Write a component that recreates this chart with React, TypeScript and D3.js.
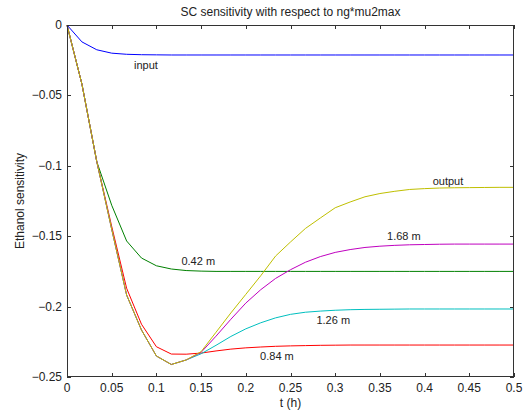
import React from "react";
import * as d3 from "d3";

const tHours = [0, 0.0167, 0.0333, 0.05, 0.0667, 0.0833, 0.1, 0.1167, 0.1333, 0.15, 0.1667, 0.1833, 0.2, 0.2167, 0.2333, 0.25, 0.2667, 0.2833, 0.3, 0.3167, 0.3333, 0.35, 0.3667, 0.3833, 0.4, 0.4167, 0.4333, 0.45, 0.4667, 0.4833, 0.5];

const inputSens = [0, -0.012, -0.0176, -0.02, -0.0208, -0.0211, -0.0212, -0.0213, -0.0213, -0.0213, -0.0213, -0.0213, -0.0213, -0.0213, -0.0213, -0.0213, -0.0213, -0.0213, -0.0213, -0.0213, -0.0213, -0.0213, -0.0213, -0.0213, -0.0213, -0.0213, -0.0213, -0.0213, -0.0213, -0.0213, -0.0213];

const sens042 = [0, -0.042, -0.097, -0.128, -0.1534, -0.1655, -0.171, -0.1733, -0.1744, -0.1748, -0.175, -0.175, -0.175, -0.175, -0.175, -0.175, -0.175, -0.175, -0.175, -0.175, -0.175, -0.175, -0.175, -0.175, -0.175, -0.175, -0.175, -0.175, -0.175, -0.175, -0.175];

const sens084 = [0, -0.042, -0.097, -0.143, -0.187, -0.2125, -0.2285, -0.2337, -0.2338, -0.233, -0.2315, -0.2302, -0.2293, -0.2287, -0.2282, -0.2279, -0.2277, -0.2275, -0.2274, -0.2273, -0.2273, -0.2273, -0.2273, -0.2273, -0.2273, -0.2273, -0.2273, -0.2273, -0.2273, -0.2273, -0.2273];

const sens126 = [0, -0.042, -0.097, -0.145, -0.1918, -0.2166, -0.2351, -0.2411, -0.2379, -0.2335, -0.2275, -0.2212, -0.2158, -0.2115, -0.208, -0.2055, -0.204, -0.2032, -0.2026, -0.2022, -0.202, -0.2019, -0.2018, -0.2017, -0.2017, -0.2017, -0.2017, -0.2017, -0.2017, -0.2017, -0.2017];

const sens168 = [0, -0.042, -0.097, -0.145, -0.1918, -0.2166, -0.2351, -0.2411, -0.2379, -0.2325, -0.221, -0.209, -0.1975, -0.188, -0.18, -0.1738, -0.1685, -0.1645, -0.1615, -0.1595, -0.158, -0.1571, -0.1565, -0.1561, -0.1559, -0.1557, -0.1556, -0.1556, -0.1556, -0.1556, -0.1556];

const outputSens = [0, -0.042, -0.097, -0.145, -0.1918, -0.2166, -0.2351, -0.2411, -0.2379, -0.232, -0.2182, -0.2045, -0.1913, -0.1781, -0.1641, -0.1541, -0.1445, -0.1371, -0.1298, -0.1257, -0.122, -0.1197, -0.1181, -0.1168, -0.1162, -0.1158, -0.1156, -0.1155, -0.1154, -0.1153, -0.1153];

const seriesNames = ["input", "0.42 m", "0.84 m", "1.26 m", "1.68 m", "output"];
const seriesValues = [inputSens, sens042, sens084, sens126, sens168, outputSens];
const seriesColors = ["#0000ff", "#008000", "#ff0000", "#00bfbf", "#bf00bf", "#bfbf00"];
// label anchor: [t, value] in data coords
const labelT = [0.075, 0.128, 0.216, 0.279, 0.358, 0.409];
const labelV = [-0.0313, -0.1706, -0.2380, -0.2125, -0.1525, -0.1138];

const xTicks = [0, 0.05, 0.1, 0.15, 0.2, 0.25, 0.3, 0.35, 0.4, 0.45, 0.5];
const xTickLabels = ["0", "0.05", "0.1", "0.15", "0.2", "0.25", "0.3", "0.35", "0.4", "0.45", "0.5"];
const yTicks = [0, -0.05, -0.1, -0.15, -0.2, -0.25];
const yTickLabels = ["0", "\u22120.05", "\u22120.1", "\u22120.15", "\u22120.2", "\u22120.25"];

const W = 526;
const H = 413;
const left = 67;
const right = 514;
const top = 25;
const bottom = 377;
const FONT = "'Liberation Sans', Arial, Helvetica, sans-serif";

export default function App() {
  const x = d3.scaleLinear().domain([0, 0.5]).range([left, right]);
  const y = d3.scaleLinear().domain([-0.25, 0]).range([bottom, top]);
  const line = d3
    .line<number>()
    .x((_, i) => x(tHours[i]))
    .y((d) => y(d));
  const tick = 4;
  const axisColor = "#333";
  return (
    <svg
      width={W}
      height={H}
      style={{ position: "absolute", left: 0, top: 0, background: "#fff" }}
      fontFamily={FONT}
    >
      <rect x={0} y={0} width={W} height={H} fill="#fff" />
      <g>
        {seriesValues.map((vals, i) => (
          <path key={i} d={line(vals) || ""} fill="none" stroke={seriesColors[i]} strokeWidth={1} />
        ))}
      </g>
      <rect
        x={left + 0.5}
        y={top + 0.5}
        width={right - left - 1}
        height={bottom - top - 1}
        fill="none"
        stroke={axisColor}
        strokeWidth={1}
      />
      {xTicks.map((t, i) => (
        <g key={"xt" + i}>
          <line x1={Math.round(x(t)) + 0.5} x2={Math.round(x(t)) + 0.5} y1={bottom} y2={bottom - tick} stroke={axisColor} />
          <line x1={Math.round(x(t)) + 0.5} x2={Math.round(x(t)) + 0.5} y1={top} y2={top + tick} stroke={axisColor} />
          <text x={x(t)} y={391.5} fontSize={12} textAnchor="middle" fill="#222">
            {xTickLabels[i]}
          </text>
        </g>
      ))}
      {yTicks.map((v, i) => (
        <g key={"yt" + i}>
          <line x1={left} x2={left + tick} y1={Math.round(y(v)) + 0.5} y2={Math.round(y(v)) + 0.5} stroke={axisColor} />
          <line x1={right} x2={right - tick} y1={Math.round(y(v)) + 0.5} y2={Math.round(y(v)) + 0.5} stroke={axisColor} />
          <text x={62} y={y(v) + 4} fontSize={12} textAnchor="end" fill="#222">
            {yTickLabels[i]}
          </text>
        </g>
      ))}
      {seriesNames.map((n, i) => (
        <text key={"lb" + i} x={x(labelT[i])} y={y(labelV[i])} fontSize={11} fill="#222">
          {n}
        </text>
      ))}
      <text x={(left + right) / 2} y={16} fontSize={12} textAnchor="middle" fill="#222">
        SC sensitivity with respect to ng*mu2max
      </text>
      <text x={(left + right) / 2} y={406.5} fontSize={12} textAnchor="middle" fill="#222">
        t (h)
      </text>
      <text
        transform={`translate(24,${(top + bottom) / 2}) rotate(-90)`}
        fontSize={12}
        textAnchor="middle"
        fill="#222"
      >
        Ethanol sensitivity
      </text>
    </svg>
  );
}
